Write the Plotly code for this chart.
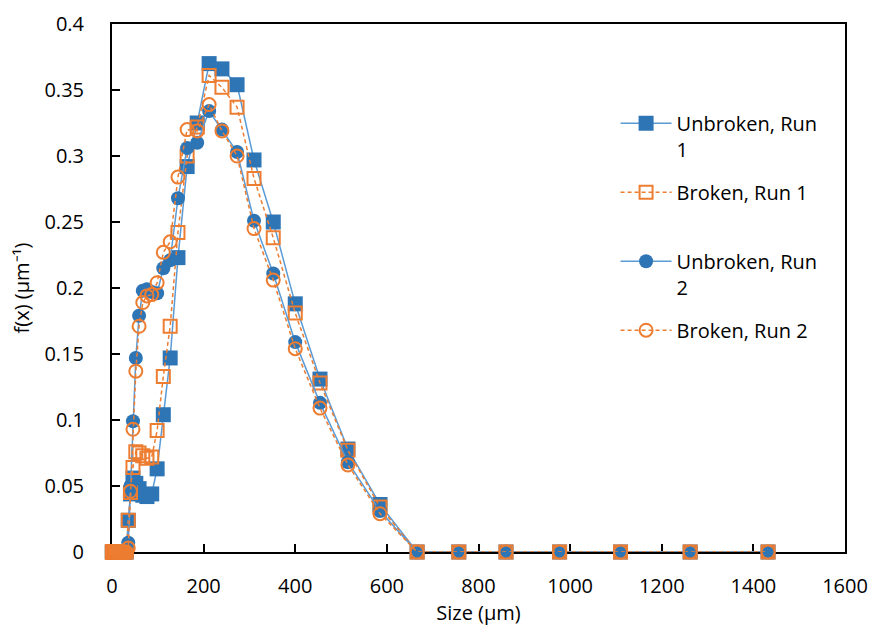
import plotly.graph_objects as go

# Particle size grid (µm): small sizes are all zero, then the measured range
size_small = [0.8, 0.9, 1.0, 1.1, 1.3, 1.5, 1.7, 1.9, 2.1, 2.4, 2.8, 3.1, 3.6, 4.1,
              4.6, 5.2, 5.9, 6.8, 7.7, 8.7, 9.9, 11.3, 12.8, 14.5, 16.5, 18.8,
              21.3, 24.2, 27.5, 31.2]
size_main = [35.5, 40.3, 45.8, 52.0, 59.1, 67.2, 76.3, 86.7, 98.5, 112, 127, 144,
             164, 186, 212, 240, 273, 310, 352, 400, 454, 515, 585, 666, 757,
             860, 977, 1110, 1262, 1432]

zeros_small = [0.0] * len(size_small)

unbroken_run1 = [0.024, 0.044, 0.056, 0.052, 0.048, 0.043, 0.042, 0.044, 0.063,
                 0.104, 0.147, 0.223, 0.292, 0.325, 0.370, 0.366, 0.354, 0.297,
                 0.250, 0.188, 0.131, 0.078, 0.036, 0, 0, 0, 0, 0, 0, 0]
broken_run1 = [0.024, 0.045, 0.064, 0.076, 0.075, 0.073, 0.071, 0.072, 0.092,
               0.133, 0.171, 0.242, 0.300, 0.322, 0.361, 0.352, 0.337, 0.283,
               0.238, 0.181, 0.128, 0.077, 0.034, 0, 0, 0, 0, 0, 0, 0]
unbroken_run2 = [0.007, 0.050, 0.099, 0.147, 0.179, 0.198, 0.199, 0.197, 0.196,
                 0.215, 0.221, 0.268, 0.306, 0.310, 0.334, 0.320, 0.303, 0.251,
                 0.211, 0.159, 0.113, 0.068, 0.031, 0, 0, 0, 0, 0, 0, 0]
broken_run2 = [0.003, 0.046, 0.093, 0.137, 0.171, 0.189, 0.194, 0.195, 0.204,
               0.227, 0.235, 0.284, 0.320, 0.319, 0.339, 0.319, 0.300, 0.245,
               0.206, 0.154, 0.109, 0.066, 0.029, 0, 0, 0, 0, 0, 0, 0]

series_names = ["Unbroken, Run<br>1", "Broken, Run 1<br> ",
                "Unbroken, Run<br>2", "Broken, Run 2<br> "]

x_all = size_small + size_main

BLUE_LINE = "#5B9BD5"
BLUE_MK = "#2E75B6"
ORANGE = "#ED7D31"
FONT = "Open Sans"

fig = go.Figure()

def add(i, vals, symbol, filled):
    y = zeros_small + vals
    if filled:
        line = dict(color=BLUE_LINE, width=1.5)
        marker = dict(symbol=symbol, size=15 if symbol == "square" else 14,
                      color=BLUE_MK, line=dict(color=BLUE_MK, width=0))
    else:
        line = dict(color=ORANGE, width=1.5, dash="4px,3px")
        marker = dict(symbol=symbol + "-open", size=13, color=ORANGE,
                      line=dict(color=ORANGE, width=2))
    fig.add_trace(go.Scatter(x=x_all, y=y, mode="lines+markers",
                             name=series_names[i], legendgroup=f"g{i}",
                             line=line, marker=marker, cliponaxis=False))

add(0, unbroken_run1, "square", True)
add(1, broken_run1, "square", False)
add(2, unbroken_run2, "circle", True)
add(3, broken_run2, "circle", False)

axis_common = dict(showline=True, linecolor="black", linewidth=2, mirror=True,
                   ticks="inside", ticklen=8, tickwidth=1.5, tickcolor="black",
                   showgrid=False, zeroline=False, layer="below traces",
                   automargin=False,
                   tickfont=dict(family=FONT, size=20, color="black"))

fig.update_xaxes(range=[0, 1600], dtick=200, tick0=0,
                 title=dict(text="Size (µm)", font=dict(family=FONT, size=20, color="black"),
                            standoff=6),
                 ticklabelstandoff=15, **axis_common)
fig.update_yaxes(range=[0, 0.4], dtick=0.05, tick0=0,
                 title=dict(text="f(x) (µm⁻¹)", font=dict(family=FONT, size=20, color="black"),
                            standoff=9),
                 ticklabelstandoff=22, **axis_common)

fig.update_layout(
    width=872, height=628,
    margin=dict(l=112, r=27, t=24, b=76, autoexpand=False),
    paper_bgcolor="white", plot_bgcolor="white",
    font=dict(family=FONT, size=20, color="black"),
    showlegend=True,
    legend=dict(x=0.687, y=0.849, xanchor="left", yanchor="top",
                bgcolor="rgba(255,255,255,0)", borderwidth=0,
                font=dict(family=FONT, size=20, color="black"),
                valign="top", itemwidth=51, tracegroupgap=14,
                traceorder="grouped"),
)

fig.write_html("out.html")
